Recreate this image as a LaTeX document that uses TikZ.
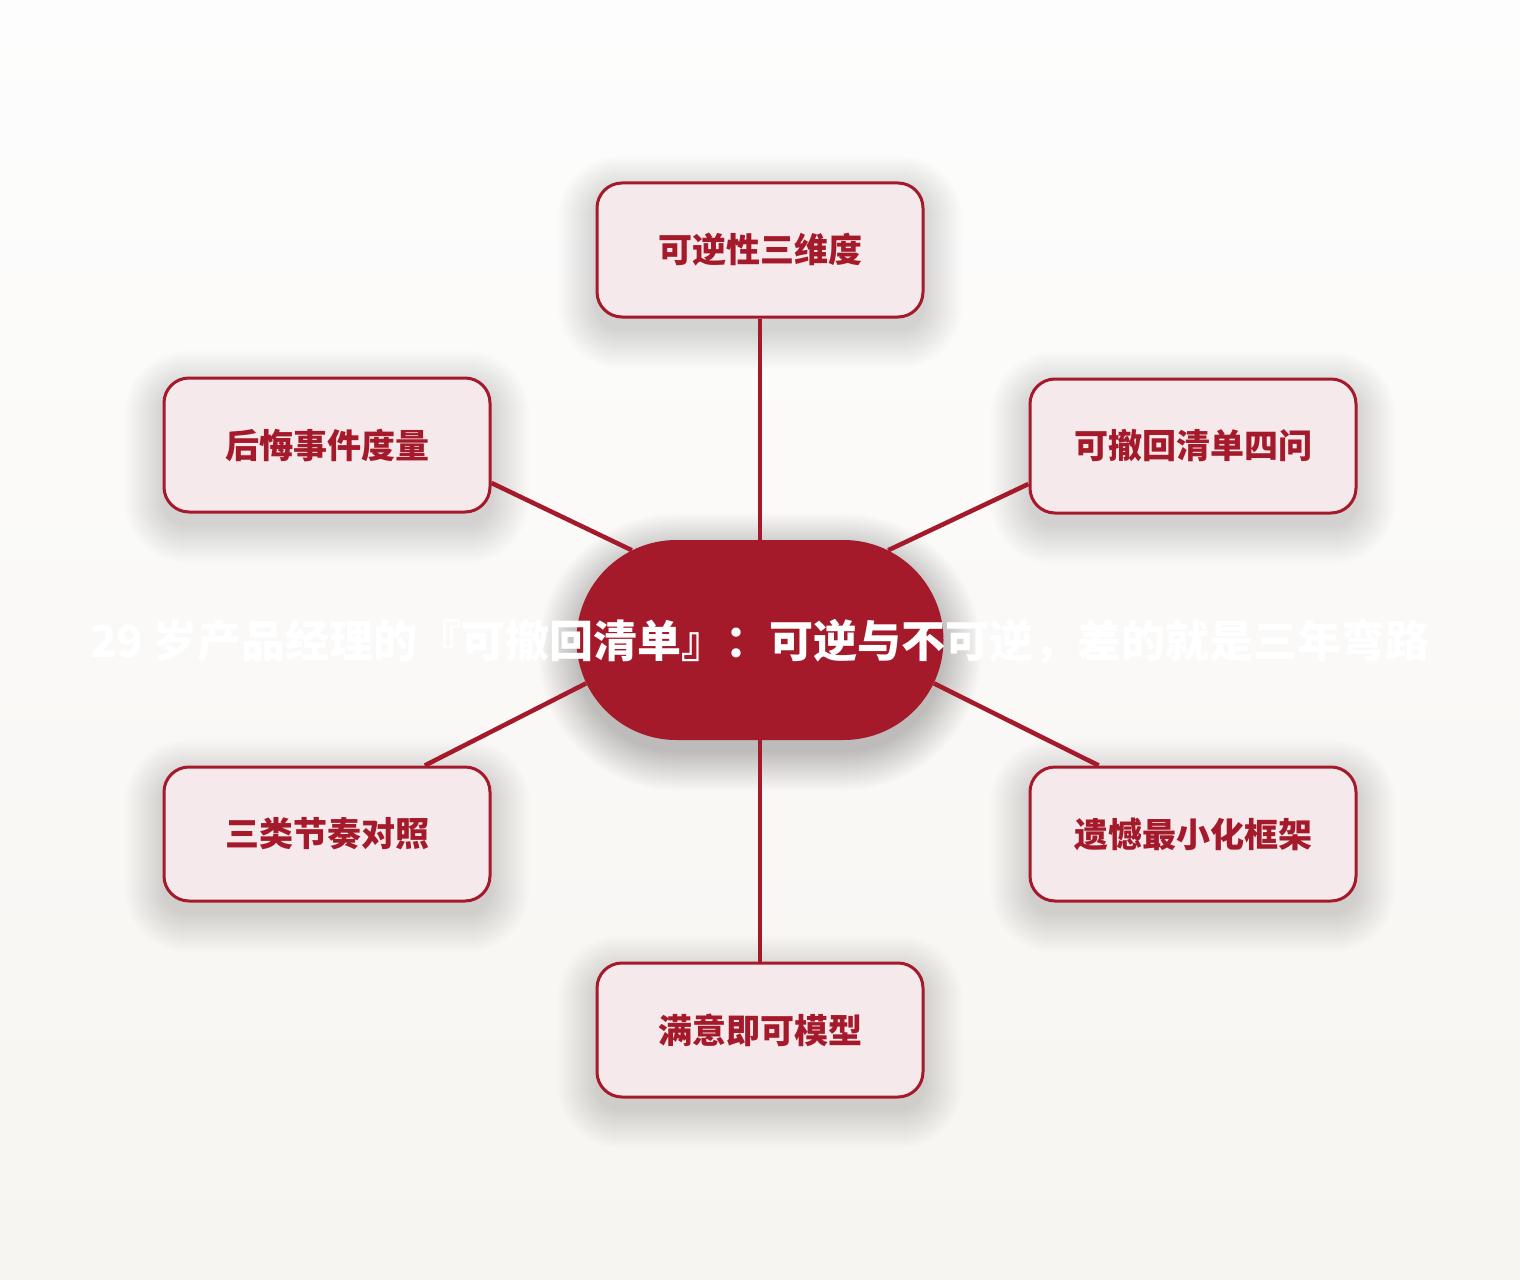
\documentclass[tikz,border=0pt]{standalone}
\usepackage{fontspec}
\newfontfamily\cjk{Noto Sans CJK SC}
\usetikzlibrary{shapes.misc,calc}
\pgfdeclarelayer{bg}
\pgfdeclarelayer{shadow}
\pgfsetlayers{bg,shadow,main}
\definecolor{crimson}{HTML}{A51A2A}
\definecolor{boxfill}{HTML}{F5E9EB}
\definecolor{bgtop}{HTML}{FDFDFD}
\definecolor{bgbot}{HTML}{F7F5F1}
\begin{document}
\begin{tikzpicture}[x=0.75pt,y=-0.75pt,
  topic/.style={draw=crimson, line width=2.25pt, fill=boxfill, rounded corners=18.75pt,
    minimum width=244.5pt, minimum height=100.5pt, inner sep=0pt, text=crimson,
    font=\cjk\bfseries\fontsize{25.5pt}{30pt}\selectfont},
  hub/.style={rounded rectangle, fill=crimson, minimum width=275.25pt, minimum height=150pt,
    inner sep=0pt},
  link/.style={draw=crimson, line width=3.4pt},
  softshade/.style={fill=black, opacity=#1},
  headline/.style={text=white, inner sep=0pt, font=\cjk\bfseries\fontsize{33pt}{38pt}\selectfont}]
\useasboundingbox (0,0) rectangle (1520,1280);
\begin{pgfonlayer}{bg}
\shade[top color=bgtop, bottom color=bgbot] (0,0) rectangle (1520,1280);
\end{pgfonlayer}

\node[hub] (c) at (760,640) {};
\node[topic] (t) at (760,250) {可逆性三维度};
\node[topic] (ul) at (327,445) {后悔事件度量};
\node[topic] (ur) at (1193,446) {可撤回清单四问};
\node[topic] (ll) at (327,834) {三类节奏对照};
\node[topic] (lr) at (1193,834) {遗憾最小化框架};
\node[topic] (b) at (760,1030) {满意即可模型};

\begin{pgfonlayer}{shadow}
\foreach \n/\r/\o in {t/25/0.009, ul/25/0.009, ur/25/0.009, ll/25/0.009, lr/25/0.009, b/25/0.009, c/100/0.011}{
  \foreach \s in {0,2,...,38}{
    \fill[softshade=\o, rounded corners={(\r+\s)*0.75pt}]
      ($(\n.west |- \n.north)+(-\s,-\s+12)$) rectangle ($(\n.east |- \n.south)+(\s,\s+12)$);
  }
}
\end{pgfonlayer}

\draw[link] (t.south) -- (c.north);
\draw[link] (ul.-13.5) -- (c.145.9);
\draw[link] (ur.193.8) -- (c.35.1);
\draw[link] (ll.35.8) -- (c.194.4);
\draw[link] (lr.144.2) -- (c.-14.9);
\draw[link] (c.south) -- (b.north);

\node[headline] (title) at (760,642) {29 岁产品经理的『可撤回清单』：可逆与不可逆，差的就是三年弯路};
\end{tikzpicture}
\end{document}
